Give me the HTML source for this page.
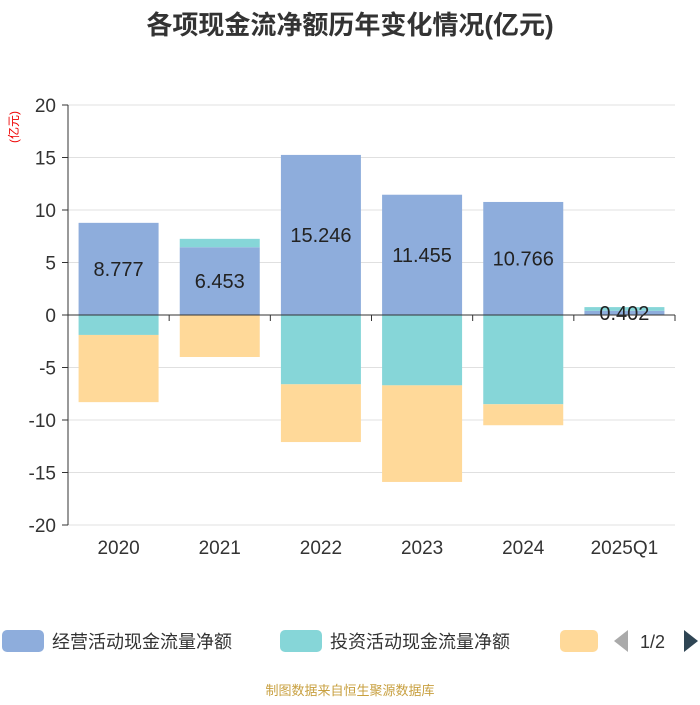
<!DOCTYPE html>
<html><head><meta charset="utf-8"><style>
body{margin:0;background:#fff;font-family:"Liberation Sans","Noto Sans CJK SC",sans-serif}
</style></head><body>
<svg id="c" width="700" height="700" xmlns="http://www.w3.org/2000/svg">
<text x="350" y="34" text-anchor="middle" font-size="26" font-weight="bold" fill="#333" font-family="Liberation Sans,Noto Sans CJK SC,sans-serif">各项现金流净额历年变化情况(亿元)</text>
<text transform="translate(18,127) rotate(-90)" text-anchor="middle" font-size="12" fill="#e00" font-family="Liberation Sans,Noto Sans CJK SC,sans-serif">(亿元)</text>
<g id="grid"></g><g id="bars"></g><g id="axes"></g>
<g>
<rect x="2" y="630" width="42" height="22" rx="5" fill="#8eaddc"/>
<text x="52" y="648" font-size="18" fill="#333">经营活动现金流量净额</text>
<rect x="280" y="630" width="42" height="22" rx="5" fill="#86d6d8"/>
<text x="330" y="648" font-size="18" fill="#333">投资活动现金流量净额</text>
<rect x="560" y="630" width="38" height="22" rx="5" fill="#ffd999"/>
<polygon points="628,630 628,652 614,641" fill="#aaa"/>
<text x="640" y="648" font-size="18" fill="#333">1/2</text>
<polygon points="684,630 684,652 698,641" fill="#2f4554"/>
</g>
<text x="350" y="695" text-anchor="middle" font-size="13" fill="#c8a040">制图数据来自恒生聚源数据库</text>
</svg>
<script>
const categories=["2020","2021","2022","2023","2024","2025Q1"];
const operating=[8.777,6.453,15.246,11.455,10.766,0.402];
const investing=[-1.9,0.8,-6.6,-6.7,-8.5,0.35];
const financing=[-6.4,-4.0,-5.5,-9.2,-2.0,-0.05];
const yTicks=[20,15,10,5,0,-5,-10,-15,-20];
const NS="http://www.w3.org/2000/svg";
const X0=68,X1=675,Y0=105,Y1=525;
const cw=(X1-X0)/categories.length;
const y=v=>Y0+(20-v)*(Y1-Y0)/40;
function mk(t,a,p){const e=document.createElementNS(NS,t);for(const k in a)e.setAttribute(k,a[k]);p.appendChild(e);return e;}
const g=document.getElementById('grid'),b=document.getElementById('bars'),ax=document.getElementById('axes');
yTicks.forEach(v=>{
 const l=mk('line',{x1:X0,x2:X1,y1:y(v),y2:y(v),stroke:'#e0e0e0'},g);
 
 
 mk('line',{x1:X0-6,x2:X0,y1:y(v),y2:y(v),stroke:'#333'},ax);
 const t=mk('text',{x:X0-12,y:y(v)+7,'text-anchor':'end','font-size':19,fill:'#333'},ax);
 t.textContent=v;
 
 
});
mk('line',{x1:X0,x2:X0,y1:Y0,y2:Y1,stroke:'#333'},ax);
mk('line',{x1:X0,x2:X1,y1:y(0),y2:y(0),stroke:'#333'},ax);
for(let i=0;i<=categories.length;i++)mk('line',{x1:X0+i*cw,x2:X0+i*cw,y1:y(0),y2:y(0)+6,stroke:'#333'},ax);
function seg(x,a,c,col,name){const r=mk('rect',{x:x,y:Math.min(y(a),y(c)),width:80,height:Math.abs(y(a)-y(c)),fill:col},b);
 
 }
categories.forEach((c,i)=>{
 const x=X0+i*cw+(cw-80)/2;
 let pos=0,neg=0;
 const o=operating[i];
 if(o>=0){seg(x,0,o,'#8eaddc','bar-operating-'+c);pos=o;}else{seg(x,0,o,'#8eaddc','bar-operating-'+c);neg=o;}
 const v=investing[i];
 if(v>=0){seg(x,pos,pos+v,'#86d6d8','bar-investing-'+c);pos+=v;}else{seg(x,neg,neg+v,'#86d6d8','bar-investing-'+c);neg+=v;}
 const f=financing[i];
 if(f>=0){seg(x,pos,pos+f,'#ffd999','bar-financing-'+c);pos+=f;}else{seg(x,neg,neg+f,'#ffd999','bar-financing-'+c);neg+=f;}
 const t=mk('text',{x:x+40,y:y(o/2)+7,'text-anchor':'middle','font-size':20,fill:'#222'},b);
 t.textContent=operating[i];
 
 
 const xl=mk('text',{x:x+40,y:554,'text-anchor':'middle','font-size':19,fill:'#333'},ax);
 xl.textContent=c;
 
 
});
</script>
</body></html>
